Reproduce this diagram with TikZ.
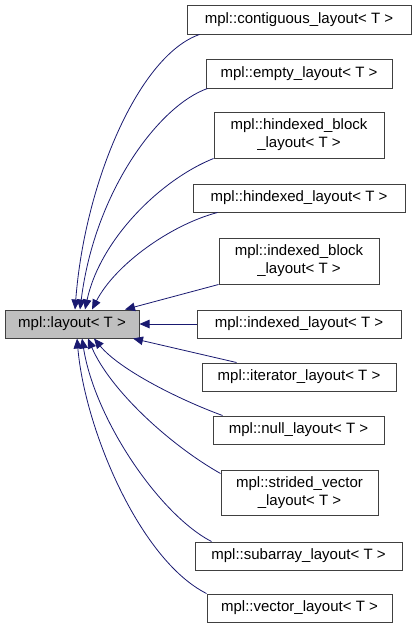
\documentclass[tikz,border=0pt]{standalone}
\usepackage{fontspec}
\setmainfont{Liberation Sans}
\usetikzlibrary{arrows.meta}
\definecolor{edgeblue}{HTML}{191970}
\definecolor{boxline}{HTML}{404040}
\definecolor{basefill}{HTML}{BFBFBF}
\tikzset{
  cls/.style={draw=boxline, line width=1pt, fill=white, inner sep=0pt, align=center,
    font=\fontsize{15}{18}\selectfont},
  basecls/.style={cls, fill=basefill},
  inh/.style={draw=edgeblue, line width=0.8pt, -{Triangle[length=10pt,width=8.5pt]}}
}
\begin{document}
\begin{tikzpicture}[x=1pt,y=-1pt]
\useasboundingbox (0,0) rectangle (416,629);
\node[basecls, minimum width=134pt, minimum height=28pt] (base) at (72,324) {mpl::layout< T >};
\node[cls, minimum width=224pt, minimum height=29pt] (cont) at (299,19.5) {mpl::contiguous\_layout< T >};
\node[cls, minimum width=186pt, minimum height=29pt] (empty) at (299,73.5) {mpl::empty\_layout< T >};
\node[cls, minimum width=170pt, minimum height=46pt] (hblock) at (299,135) {mpl::hindexed\_block\\\_layout< T >};
\node[cls, minimum width=212pt, minimum height=28pt] (hlayout) at (299,198) {mpl::hindexed\_layout< T >};
\node[cls, minimum width=160pt, minimum height=46pt] (iblock) at (299,261) {mpl::indexed\_block\\\_layout< T >};
\node[cls, minimum width=204pt, minimum height=28pt] (ilayout) at (299,324) {mpl::indexed\_layout< T >};
\node[cls, minimum width=194pt, minimum height=28pt] (iter) at (299,377) {mpl::iterator\_layout< T >};
\node[cls, minimum width=171pt, minimum height=28pt] (null) at (298.5,430) {mpl::null\_layout< T >};
\node[cls, minimum width=157pt, minimum height=45pt] (strided) at (299.5,492.5) {mpl::strided\_vector\\\_layout< T >};
\node[cls, minimum width=207pt, minimum height=28pt] (sub) at (298.5,556) {mpl::subarray\_layout< T >};
\node[cls, minimum width=185pt, minimum height=28pt] (vec) at (299.5,608) {mpl::vector\_layout< T >};

\draw[inh] ([xshift=13pt]cont.south west) .. controls (140,55) and (85,180) .. ([xshift=3pt]base.north);
\draw[inh] ([xshift=2pt]empty.south west) .. controls (160,105) and (95,190) .. ([xshift=8pt]base.north);
\draw[inh] (hblock.south west) .. controls (160,180) and (100,240) .. ([xshift=13pt]base.north);
\draw[inh] ([xshift=25pt]hlayout.south west) .. controls (170,225) and (115,265) .. ([xshift=20pt]base.north);
\draw[inh] (iblock.south west) -- ([xshift=53pt]base.north);
\draw[inh] (ilayout.west) -- (base.east);
\draw[inh] ([xshift=35pt]iter.north west) -- ([xshift=61pt]base.south);
\draw[inh] ([xshift=10pt]null.north west) .. controls (180,400) and (120,370) .. ([xshift=22pt]base.south);
\draw[inh] ([yshift=-4pt]strided.north west) .. controls (170,445) and (110,390) .. ([xshift=16pt]base.south);
\draw[inh] ([xshift=17pt]sub.north west) .. controls (160,515) and (95,420) .. ([xshift=10pt]base.south);
\draw[inh] (vec.north west) .. controls (140,560) and (85,430) .. ([xshift=5pt]base.south);
\end{tikzpicture}
\end{document}
